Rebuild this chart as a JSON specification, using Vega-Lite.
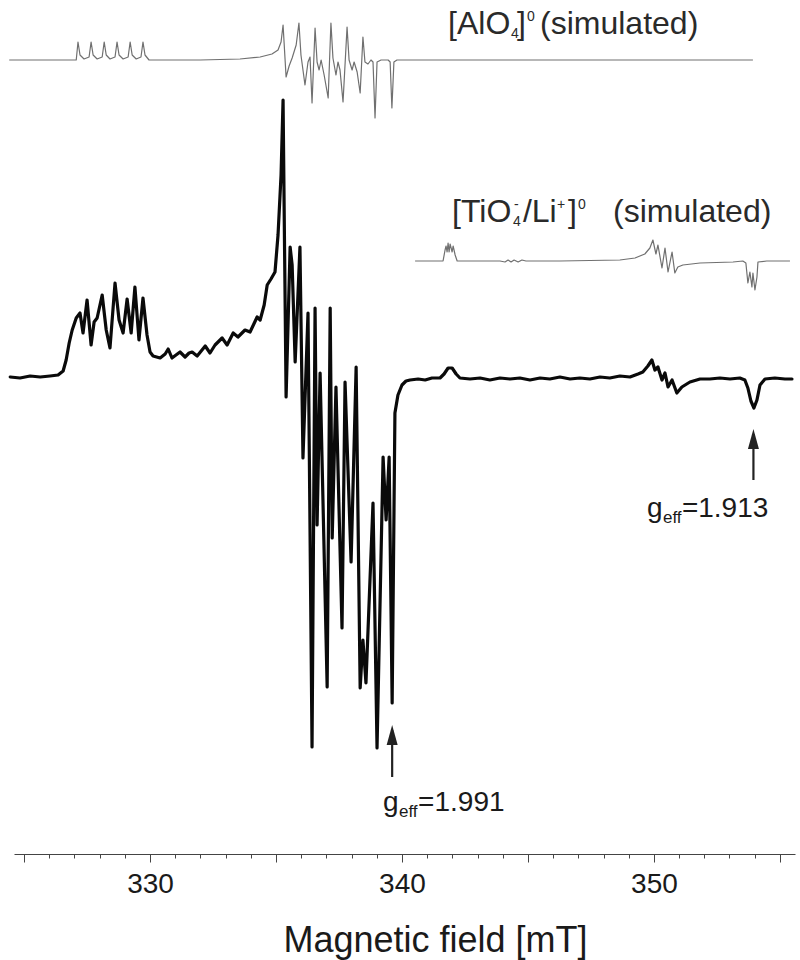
{
  "$schema": "https://vega.github.io/schema/vega-lite/v6.json",
  "width": 781,
  "height": 854,
  "autosize": {"type": "none"},
  "padding": {"left": 14, "right": 5, "top": 0, "bottom": 106},
  "background": "white",
  "config": {"view": {"stroke": null}},
  "datasets": {
    "measured": [
      {"B":324.45,"v":1},{"B":324.84,"v":0},{"B":325.24,"v":2},{"B":325.64,"v":1},{"B":326.03,"v":2},{"B":326.35,"v":3},{"B":326.55,"v":7},{"B":326.67,"v":18},{"B":326.79,"v":35},{"B":326.91,"v":48},{"B":327.07,"v":60},{"B":327.22,"v":65},{"B":327.34,"v":45},{"B":327.5,"v":78},{"B":327.66,"v":33},{"B":327.78,"v":56},{"B":327.9,"v":60},{"B":328.1,"v":83},{"B":328.26,"v":48},{"B":328.41,"v":30},{"B":328.61,"v":95},{"B":328.77,"v":58},{"B":328.93,"v":45},{"B":329.09,"v":79},{"B":329.25,"v":45},{"B":329.4,"v":91},{"B":329.56,"v":38},{"B":329.72,"v":80},{"B":329.88,"v":43},{"B":330.0,"v":26},{"B":330.12,"v":22},{"B":330.4,"v":20},{"B":330.6,"v":24},{"B":330.72,"v":29},{"B":330.87,"v":20},{"B":331.03,"v":23},{"B":331.19,"v":26},{"B":331.39,"v":21},{"B":331.55,"v":25},{"B":331.67,"v":26},{"B":331.87,"v":22},{"B":332.03,"v":27},{"B":332.19,"v":32},{"B":332.38,"v":25},{"B":332.58,"v":33},{"B":332.86,"v":40},{"B":333.06,"v":33},{"B":333.3,"v":45},{"B":333.49,"v":41},{"B":333.77,"v":48},{"B":333.97,"v":46},{"B":334.25,"v":61},{"B":334.37,"v":58},{"B":334.53,"v":73},{"B":334.65,"v":93},{"B":334.8,"v":99},{"B":334.96,"v":106},{"B":335.08,"v":143},{"B":335.2,"v":203},{"B":335.28,"v":278},{"B":335.34,"v":128},{"B":335.4,"v":-19},{"B":335.56,"v":131},{"B":335.64,"v":113},{"B":335.76,"v":16},{"B":335.95,"v":131},{"B":336.07,"v":-80},{"B":336.27,"v":65},{"B":336.43,"v":-369},{"B":336.55,"v":70},{"B":336.63,"v":-147},{"B":336.75,"v":5},{"B":337.03,"v":-309},{"B":337.15,"v":70},{"B":337.23,"v":-160},{"B":337.38,"v":-9},{"B":337.62,"v":-250},{"B":337.74,"v":-4},{"B":337.98,"v":-184},{"B":338.18,"v":11},{"B":338.34,"v":-310},{"B":338.45,"v":-262},{"B":338.57,"v":-305},{"B":338.85,"v":-125},{"B":339.01,"v":-370},{"B":339.25,"v":-79},{"B":339.37,"v":-142},{"B":339.49,"v":-79},{"B":339.61,"v":-325},{"B":339.72,"v":-35},{"B":339.84,"v":-17},{"B":340.0,"v":-7},{"B":340.16,"v":-3},{"B":340.32,"v":-2},
      {"B":340.64,"v":-1},{"B":340.92,"v":-2},{"B":341.19,"v":0},{"B":341.51,"v":0},{"B":341.67,"v":4},{"B":341.83,"v":10},{"B":341.99,"v":10},{"B":342.15,"v":4},{"B":342.3,"v":0},{"B":342.7,"v":-1},{"B":343.1,"v":0},{"B":343.49,"v":-2},{"B":343.89,"v":0},{"B":344.29,"v":-1},{"B":344.68,"v":0},{"B":345.08,"v":-2},{"B":345.48,"v":0},{"B":345.87,"v":-1},{"B":346.27,"v":1},{"B":346.67,"v":-1},{"B":347.06,"v":0},{"B":347.46,"v":-1},{"B":347.86,"v":1},{"B":348.25,"v":0},{"B":348.65,"v":2},{"B":349.05,"v":1},{"B":349.37,"v":4},{"B":349.56,"v":6},{"B":349.76,"v":12},{"B":349.92,"v":18},{"B":350.04,"v":8},{"B":350.16,"v":11},{"B":350.32,"v":-2},{"B":350.44,"v":5},{"B":350.56,"v":-9},{"B":350.72,"v":-2},{"B":350.91,"v":-15},{"B":351.11,"v":-9},{"B":351.43,"v":-4},{"B":351.83,"v":-1},{"B":352.22,"v":-1},{"B":352.62,"v":0},{"B":353.02,"v":-1},{"B":353.41,"v":0},{"B":353.61,"v":-2},{"B":353.73,"v":-10},{"B":353.85,"v":-23},{"B":353.97,"v":-30},{"B":354.09,"v":-22},{"B":354.21,"v":-7},{"B":354.41,"v":-1},{"B":354.8,"v":0},{"B":355.2,"v":-1},{"B":355.48,"v":-1}
    ],
    "alo4": [
      {"B":324.41,"v":318},{"B":326.83,"v":318},{"B":327.07,"v":318},{"B":327.14,"v":336},{"B":327.22,"v":323},{"B":327.38,"v":319},{"B":327.58,"v":321},{"B":327.66,"v":336},{"B":327.74,"v":323},{"B":327.9,"v":319},{"B":328.1,"v":321},{"B":328.18,"v":336},{"B":328.26,"v":323},{"B":328.41,"v":319},{"B":328.61,"v":321},{"B":328.69,"v":336},{"B":328.77,"v":323},{"B":328.93,"v":319},{"B":329.13,"v":321},{"B":329.21,"v":336},{"B":329.29,"v":323},{"B":329.45,"v":319},{"B":329.64,"v":321},{"B":329.72,"v":336},{"B":329.8,"v":323},{"B":329.96,"v":318},{"B":331.99,"v":318},{"B":333.57,"v":319},{"B":334.37,"v":321},{"B":334.84,"v":324},{"B":335.08,"v":328},{"B":335.2,"v":336},{"B":335.28,"v":353},{"B":335.4,"v":301},{"B":335.52,"v":312},{"B":335.64,"v":320},{"B":335.8,"v":333},{"B":335.91,"v":355},{"B":335.99,"v":323},{"B":336.15,"v":293},{"B":336.27,"v":316},{"B":336.35,"v":321},{"B":336.43,"v":275},{"B":336.55,"v":350},{"B":336.63,"v":316},{"B":336.71,"v":308},{"B":336.79,"v":318},{"B":336.91,"v":303},{"B":337.07,"v":280},{"B":337.18,"v":355},{"B":337.26,"v":320},{"B":337.38,"v":303},{"B":337.46,"v":316},{"B":337.54,"v":308},{"B":337.66,"v":276},{"B":337.82,"v":351},{"B":337.9,"v":318},{"B":338.02,"v":308},{"B":338.1,"v":316},{"B":338.22,"v":306},{"B":338.34,"v":285},{"B":338.45,"v":341},{"B":338.53,"v":316},{"B":338.65,"v":314},{"B":338.77,"v":318},{"B":338.85,"v":316},{"B":338.93,"v":260},{"B":339.01,"v":316},{"B":339.17,"v":318},{"B":339.45,"v":318},{"B":339.53,"v":316},{"B":339.6,"v":270},{"B":339.68,"v":316},{"B":339.8,"v":318},{"B":353.93,"v":318}
    ],
    "tio4": [
      {"B":340.52,"v":117},{"B":341.63,"v":117},{"B":341.71,"v":128},{"B":341.75,"v":132},{"B":341.79,"v":126},{"B":341.83,"v":135},{"B":341.87,"v":126},{"B":341.91,"v":134},{"B":341.99,"v":126},{"B":342.03,"v":132},{"B":342.11,"v":123},{"B":342.19,"v":117},{"B":343.89,"v":117},{"B":344.09,"v":116},{"B":344.21,"v":118},{"B":344.33,"v":116},{"B":344.45,"v":118},{"B":344.61,"v":116},{"B":344.76,"v":118},{"B":344.92,"v":117},{"B":346.27,"v":117},{"B":348.65,"v":118},{"B":349.25,"v":120},{"B":349.64,"v":124},{"B":349.84,"v":130},{"B":349.96,"v":138},{"B":350.08,"v":124},{"B":350.16,"v":133},{"B":350.32,"v":110},{"B":350.44,"v":130},{"B":350.56,"v":106},{"B":350.72,"v":126},{"B":350.83,"v":105},{"B":350.95,"v":111},{"B":351.15,"v":113},{"B":351.83,"v":115},{"B":353.14,"v":116},{"B":353.53,"v":117},{"B":353.65,"v":115},{"B":353.73,"v":95},{"B":353.81,"v":106},{"B":353.89,"v":91},{"B":353.93,"v":105},{"B":354.01,"v":88},{"B":354.09,"v":101},{"B":354.13,"v":116},{"B":354.48,"v":117},{"B":355.4,"v":117}
    ],
    "caption_main": [
      {"B":341.83,"v":344,"text":"[AlO"},
      {"B":344.57,"v":344,"text":"]"},
      {"B":345.48,"v":344,"text":"(simulated)"},
      {"B":341.99,"v":156,"text":"[TiO"},
      {"B":344.8,"v":156,"text":"/Li"},
      {"B":346.59,"v":156,"text":"]"},
      {"B":348.38,"v":156,"text":"(simulated)"}
    ],
    "caption_sub": [
      {"B":344.33,"v":344,"text":"4"},
      {"B":344.41,"v":156,"text":"4"}
    ],
    "caption_sup": [
      {"B":344.96,"v":344,"text":"0"},
      {"B":344.45,"v":156,"text":"-"},
      {"B":346.15,"v":156,"text":"+"},
      {"B":346.99,"v":156,"text":"0"}
    ],
    "arrows": [
      {"B":339.61,"v":-352,"v2":-399,"head":-357},
      {"B":353.95,"v":-56,"v2":-102,"head":-61}
    ],
    "gsym": [
      {"B":339.25,"v":-433,"text":"g"},
      {"B":349.73,"v":-139,"text":"g"}
    ],
    "gsub": [
      {"B":339.88,"v":-433,"text":"eff"},
      {"B":350.36,"v":-139,"text":"eff"}
    ],
    "gval": [
      {"B":340.64,"v":-433,"text":"=1.991"},
      {"B":351.11,"v":-139,"text":"=1.913"}
    ]
  },
  "encoding": {
    "x": {"field": "B", "type": "quantitative", "scale": {"domain": [324.6, 355.6], "nice": false, "zero": false}, "axis": null},
    "y": {"field": "v", "type": "quantitative", "scale": {"domain": [-476, 378], "nice": false, "zero": false}, "axis": null}
  },
  "resolve": {"axis": {"x": "independent"}},
  "layer": [
    {
      "data": {"name": "alo4"},
      "mark": {"type": "line", "color": "#707070", "strokeWidth": 1.2, "strokeJoin": "round"},
      "encoding": {
        "x": {"field": "B", "type": "quantitative", "scale": {"domain": [324.6, 355.6], "nice": false, "zero": false},
          "axis": {"orient": "bottom", "values": [325,326,327,328,329,330,331,332,333,334,335,336,337,338,339,340,341,342,343,344,345,346,347,348,349,350,351,352,353,354,355],
            "tickSize": 4, "tickColor": "#444", "tickWidth": 1, "labels": false, "domain": false, "grid": false, "title": null}}
      }
    },
    {
      "data": {"name": "tio4"},
      "mark": {"type": "line", "color": "#707070", "strokeWidth": 1.2, "strokeJoin": "round"}
    },
    {
      "data": {"name": "measured"},
      "mark": {"type": "line", "color": "#0a0a0a", "strokeWidth": 3.2, "strokeJoin": "round", "strokeCap": "round"},
      "encoding": {
        "x": {"field": "B", "type": "quantitative", "scale": {"domain": [324.6, 355.6], "nice": false, "zero": false},
          "axis": {"orient": "bottom", "values": [325,330,335,340,345,350,355],
            "labelExpr": "datum.value % 10 === 0 ? datum.label : ''", "labelOverlap": false,
            "tickSize": 8, "tickColor": "#444", "tickWidth": 1, "domainColor": "#444", "domainWidth": 1.2, "grid": false,
            "labelFont": "Liberation Sans, Arial, sans-serif", "labelFontSize": 28, "labelColor": "#1a1a1a", "labelPadding": 8,
            "title": "Magnetic field [mT]", "titleFont": "Liberation Sans, Arial, sans-serif", "titleFontSize": 36, "titleFontWeight": "normal", "titleColor": "#1a1a1a", "titlePadding": 25, "titleX": 421}}
      }
    },
    {
      "data": {"name": "caption_main"},
      "mark": {"type": "text", "align": "left", "baseline": "alphabetic", "font": "Liberation Sans, Arial, sans-serif", "fontSize": 32, "color": "#2a2a2a"},
      "encoding": {"text": {"field": "text"}}
    },
    {
      "data": {"name": "caption_sub"},
      "mark": {"type": "text", "align": "left", "baseline": "alphabetic", "dy": 4, "font": "Liberation Sans, Arial, sans-serif", "fontSize": 14, "color": "#2a2a2a"},
      "encoding": {"text": {"field": "text"}}
    },
    {
      "data": {"name": "caption_sup"},
      "mark": {"type": "text", "align": "left", "baseline": "alphabetic", "dy": -13, "font": "Liberation Sans, Arial, sans-serif", "fontSize": 14, "color": "#2a2a2a"},
      "encoding": {"text": {"field": "text"}}
    },
    {
      "data": {"name": "arrows"},
      "mark": {"type": "rule", "color": "#222", "strokeWidth": 2.2},
      "encoding": {"y2": {"field": "v2"}}
    },
    {
      "data": {"name": "arrows"},
      "mark": {"type": "point", "shape": "M0,-1L0.55,1L-0.55,1Z", "size": 400, "filled": true, "color": "#222", "opacity": 1},
      "encoding": {"y": {"field": "head", "type": "quantitative", "scale": {"domain": [-476, 378], "nice": false, "zero": false}, "axis": null}}
    },
    {
      "data": {"name": "gsym"},
      "mark": {"type": "text", "align": "left", "baseline": "alphabetic", "font": "Liberation Sans, Arial, sans-serif", "fontSize": 28, "color": "#1a1a1a"},
      "encoding": {"text": {"field": "text"}}
    },
    {
      "data": {"name": "gsub"},
      "mark": {"type": "text", "align": "left", "baseline": "alphabetic", "dy": 6, "font": "Liberation Sans, Arial, sans-serif", "fontSize": 17, "color": "#1a1a1a"},
      "encoding": {"text": {"field": "text"}}
    },
    {
      "data": {"name": "gval"},
      "mark": {"type": "text", "align": "left", "baseline": "alphabetic", "font": "Liberation Sans, Arial, sans-serif", "fontSize": 28, "color": "#1a1a1a"},
      "encoding": {"text": {"field": "text"}}
    }
  ]
}
